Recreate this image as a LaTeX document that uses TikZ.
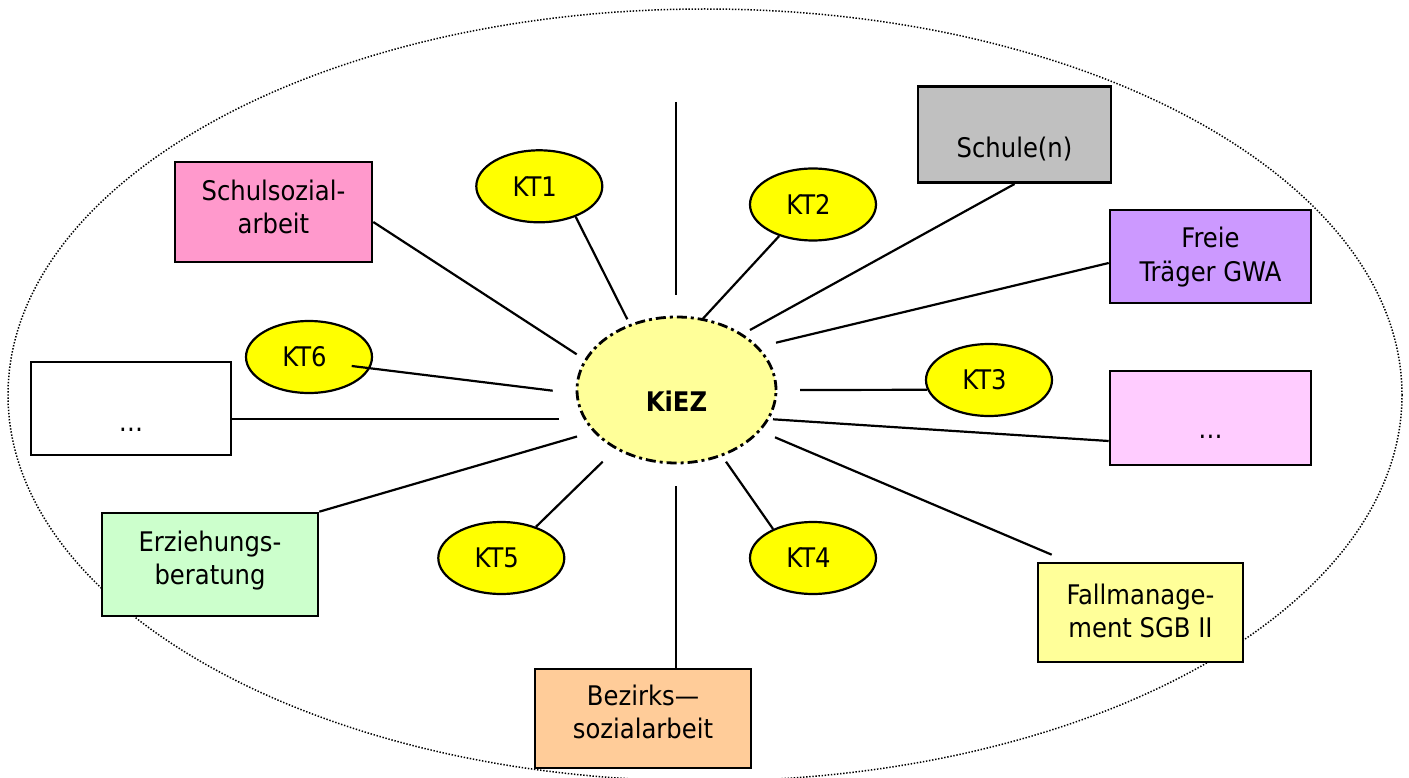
\documentclass[tikz,border=0pt]{standalone}
\usepackage{fontspec}
\setmainfont{DejaVu Sans Condensed}
\usetikzlibrary{calc,shapes.geometric}
\definecolor{ktyellow}{HTML}{FFFF00}
\definecolor{kiezfill}{HTML}{FFFF99}
\definecolor{pinkS}{HTML}{FF99CC}
\definecolor{grayS}{HTML}{C0C0C0}
\definecolor{purpleF}{HTML}{CC99FF}
\definecolor{pinkR}{HTML}{FFCCFF}
\definecolor{greenE}{HTML}{CCFFCC}
\definecolor{peachB}{HTML}{FFCC99}
\definecolor{yellowF}{HTML}{FFFF99}
\newcommand\twoln[3]{\raisebox{#1}[\height][\depth]{\begin{tabular}{@{}c@{}}#2\\#3\end{tabular}}}
\newcommand\ktlab[1]{#1\kern9pt\relax}
\begin{document}
\begin{tikzpicture}[x=1pt,y=-1pt,
  every node/.style={font=\fontsize{27}{33}\selectfont, text=black},
  box/.style={draw=black, line width=2.6pt, rectangle, align=center, inner sep=0pt},
  kt/.style={draw=black, line width=2.2pt, ellipse, fill=ktyellow, minimum width=126pt, minimum height=72pt, inner sep=0pt},
  kiezstyle/.style={draw=black, line width=2.8pt, ellipse, fill=kiezfill, minimum width=199pt, minimum height=146pt, inner sep=0pt, dash pattern=on 10pt off 4pt on 3pt off 4pt},
  outer/.style={draw=black, line width=1.5pt, dash pattern=on 1.4pt off 1.7pt},
  link/.style={line width=2.2pt, draw=black}]
\useasboundingbox (0,0) rectangle (1409,778);
\fill[white] (0,0) rectangle (1409,778);
% outer dotted ellipse
\draw[outer] (705,395) ellipse [x radius=697, y radius=386];

% central node
\node[kiezstyle, text height=43pt, text depth=0pt] (kiez) at (676.5,390) {\textbf{KiEZ}};

% KT ellipses
\node[kt] (kt1) at (539.3,186.3) {\ktlab{KT1}};
\node[kt] (kt2) at (813,204.5) {\ktlab{KT2}};
\node[kt] (kt3) at (989,380) {\ktlab{KT3}};
\node[kt] (kt4) at (813,558) {\ktlab{KT4}};
\node[kt] (kt5) at (501.3,558) {\ktlab{KT5}};
\node[kt] (kt6) at (309,357) {\ktlab{KT6}};

% boxes
\node[box, fill=pinkS, minimum width=197pt, minimum height=100pt] (schulS) at (273.5,212) {\twoln{2pt}{Schulsozial-}{arbeit}};
\node[box, fill=grayS, minimum width=193pt, minimum height=96pt, text height=45pt, text depth=0pt] (schule) at (1014.5,134.7) {Schule(n)};
\node[box, fill=purpleF, minimum width=201pt, minimum height=93pt] (freie) at (1210.5,256.5) {\twoln{-1.4pt}{Freie}{Träger GWA}};
\node[box, fill=white, minimum width=200pt, minimum height=93pt, text height=45pt, text depth=0pt] (dotsL) at (131,408.5) {…};
\node[box, fill=pinkR, minimum width=201pt, minimum height=94pt, text height=40pt, text depth=0pt] (dotsR) at (1210.5,418) {…};
\node[box, fill=greenE, minimum width=216pt, minimum height=103pt] (erz) at (210,564.5) {\twoln{3pt}{Erziehungs-}{beratung}};
\node[box, fill=peachB, minimum width=216pt, minimum height=99pt] (bez) at (643,718.5) {\twoln{3.6pt}{Bezirks—}{sozialarbeit}};
\node[box, fill=yellowF, minimum width=205pt, minimum height=99pt] (fall) at (1140.5,612.5) {\twoln{-1.5pt}{Fallmanage-}{ment SGB II}};

% free ends near the centre
\coordinate (q1) at (576.7,354.3);
\coordinate (q2) at (627.3,319.3);
\coordinate (t0) at (676,102);
\coordinate (q3) at (676,295);
\coordinate (q4) at (701.7,320);
\coordinate (q5) at (750,330);
\coordinate (q6) at (776,342.7);
\coordinate (q7) at (552.7,390.7);
\coordinate (q8) at (559.3,419);
\coordinate (q9) at (800,390);
\coordinate (q10) at (773,419.3);
\coordinate (q11) at (775,437.3);
\coordinate (q12) at (577,436.5);
\coordinate (q13) at (602.7,461.7);
\coordinate (q14) at (676,486);
\coordinate (q15) at (726,461.7);

% connectors
\draw[link] ($(schulS.east)+(0,10)$) -- (q1);
\draw[link] (kt1.-40) -- (q2);
\draw[link] (t0) -- (q3);
\draw[link] (kt2.-137) -- (q4);
\draw[link] (schule.south) -- (q5);
\draw[link] ($(freie.west)+(0,6.5)$) -- (q6);
\draw[link] ($(kt6.center)+(42.7,9)$) -- (q7);
\draw[link] ($(dotsL.east)+(0,10.5)$) -- (q8);
\draw[link] (kt3.-171) -- (q9);
\draw[link] ($(dotsR.west)+(0,23)$) -- (q10);
\draw[link] ($(fall.north west)+(15,-7)$) -- (q11);
\draw[link] (erz.north east) -- (q12);
\draw[link] (kt5.42) -- (q13);
\draw[link] ($(bez.north)+(33,0)$) -- (q14);
\draw[link] (kt4.144) -- (q15);
\end{tikzpicture}
\end{document}
